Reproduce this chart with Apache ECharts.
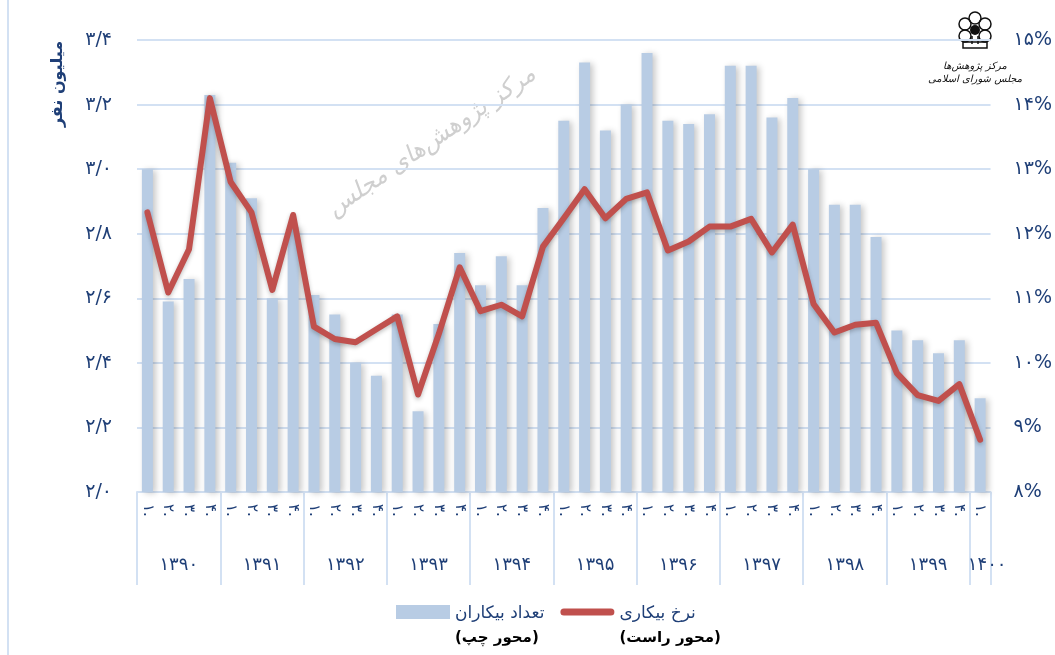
<!DOCTYPE html>
<html>
<head>
<meta charset="utf-8">
<script src="https://cdn.jsdelivr.net/npm/echarts@6/dist/echarts.min.js"></script>
<style>
  html, body { margin: 0; padding: 0; background: #fff; }
  #main { width: 1055px; height: 655px; }
</style>
</head>
<body>
<div id="main"></div>
<script>
// سال‌ها و فصل‌ها
var years = ['1390', '1391', '1392', '1393', '1394', '1395', '1396', '1397', '1398', '1399', '1400'];
var quarters = ['1', '2', '3', '4'];

// تعداد بیکاران (میلیون نفر) - محور چپ
var unemployed = [3.00, 2.59, 2.66, 3.23, 3.02, 2.91, 2.60, 2.82, 2.61, 2.55, 2.40, 2.36,
                  2.55, 2.25, 2.52, 2.74, 2.64, 2.73, 2.64, 2.88, 3.15, 3.33, 3.12, 3.20,
                  3.36, 3.15, 3.14, 3.17, 3.32, 3.32, 3.16, 3.22, 3.00, 2.89, 2.89, 2.79,
                  2.50, 2.47, 2.43, 2.47, 2.29];

// نرخ بیکاری (درصد) - محور راست
var rate = [12.33, 11.09, 11.76, 14.10, 12.80, 12.33, 11.13, 12.29, 10.56, 10.37, 10.32, 10.52,
            10.72, 9.51, 10.45, 11.48, 10.80, 10.90, 10.72, 11.80, 12.24, 12.69, 12.24, 12.54,
            12.64, 11.74, 11.88, 12.11, 12.11, 12.23, 11.71, 12.14, 10.91, 10.47, 10.59, 10.62,
            9.84, 9.50, 9.41, 9.67, 8.81];

var navy = '#1f3f77';
var gridBlue = '#d3e1f3';
var faFont = 'DejaVu Sans';

function fa(s) {
    return String(s).replace(/\d/g, function (d) { return '۰۱۲۳۴۵۶۷۸۹'[d]; });
}

var categories = [];
years.forEach(function (y) {
    quarters.forEach(function (q) {
        if (categories.length < unemployed.length) categories.push(y + '-' + q);
    });
});

var myChart = echarts.init(document.getElementById('main'));

var option = {
    backgroundColor: '#fff',
    animation: false,
    textStyle: { fontFamily: faFont },
    grid: { left: 137, right: 63, top: 40, bottom: 163 },
    legend: {
        left: 391,
        top: 600,
        itemWidth: 54,
        itemHeight: 14,
        itemGap: 16,
        formatter: function (name) {
            var sub = name === 'تعداد بیکاران' ? '(محور چپ)' : '(محور راست)';
            return '{a|' + name + '}\n{b|' + sub + '}';
        },
        textStyle: {
            padding: [28, 0, 0, 0],
            rich: {
                a: { fontFamily: faFont, fontSize: 17, color: navy, lineHeight: 24 },
                b: { fontFamily: faFont, fontSize: 15, fontWeight: 'bold', color: '#000', lineHeight: 24 }
            }
        },
        data: [
            { name: 'تعداد بیکاران', icon: 'rect' },
            // thin rounded bar; the two move-to points keep the full icon height
            { name: 'نرخ بیکاری', icon: 'path://M0,0M0,14M3.5,3.5L50.5,3.5A3.5,3.5,0,0,1,50.5,10.5L3.5,10.5A3.5,3.5,0,0,1,3.5,3.5Z' }
        ]
    },
    xAxis: [
        {
            type: 'category',
            data: categories,
            axisLine: { lineStyle: { color: gridBlue, width: 2 } },
            axisTick: { show: false },
            axisLabel: {
                interval: 0,
                rotate: -90,
                margin: 12,
                fontSize: 15,
                color: navy,
                formatter: function (v) { return fa(v.split('-')[1]) + '.'; }
            }
        },
        {
            type: 'category',
            data: categories,
            position: 'bottom',
            axisLine: { show: false },
            axisTick: {
                show: true,
                length: 93,
                interval: function (i) { return i % 4 === 0; },
                lineStyle: { color: gridBlue, width: 2 }
            },
            axisLabel: {
                margin: 64,
                color: navy,
                interval: function (i) { return i % 4 === 1 || i === 40; },
                formatter: function (v, i) {
                    var y = fa(v.split('-')[0]);
                    return i === 40 ? '{e|' + y + '}' : '{y|' + y + '}';
                },
                rich: {
                    y: { fontFamily: faFont, fontSize: 18, color: navy, padding: [0, 0, 0, 21] },
                    e: { fontFamily: faFont, fontSize: 18, color: navy, padding: [0, 0, 0, 14] }
                }
            }
        }
    ],
    yAxis: [
        {
            type: 'value',
            min: 2.0,
            max: 3.4,
            interval: 0.2,
            axisLine: { show: false },
            axisTick: { show: false },
            splitLine: { lineStyle: { color: gridBlue, width: 2 } },
            axisLabel: {
                margin: 25,
                fontSize: 19,
                color: navy,
                formatter: function (v) { return fa(v.toFixed(1)).replace('.', '/'); }
            }
        },
        {
            type: 'value',
            min: 8,
            max: 15,
            interval: 1,
            axisLine: { show: false },
            axisTick: { show: false },
            splitLine: { show: false },
            axisLabel: {
                margin: 23,
                fontSize: 19,
                color: navy,
                formatter: function (v) { return fa(v) + '%'; }
            }
        }
    ],
    graphic: [
        {
            type: 'line',
            shape: { x1: 8, y1: 0, x2: 8, y2: 655 },
            style: { stroke: gridBlue, lineWidth: 2 }
        },
        {
            type: 'text',
            x: 58, y: 84,
            rotation: Math.PI / 2,
            style: {
                text: 'میلیون نفر',
                font: 'bold 16px DejaVu Sans',
                fill: navy,
                textAlign: 'center',
                textVerticalAlign: 'middle'
            }
        },
        {
            type: 'text',
            x: 432, y: 142,
            rotation: 0.6,
            z: 0,
            style: {
                text: 'مرکز پژوهش‌های مجلس',
                font: 'italic 24px DejaVu Sans',
                fill: '#cfcfcf',
                textAlign: 'center',
                textVerticalAlign: 'middle'
            }
        },
        {
            type: 'group',
            x: 975, y: 30,
            children: [
                { type: 'circle', shape: { cx: 0, cy: -12, r: 6 }, style: { fill: 'none', stroke: '#111', lineWidth: 1.5 } },
                { type: 'circle', shape: { cx: -10, cy: -6, r: 6 }, style: { fill: 'none', stroke: '#111', lineWidth: 1.5 } },
                { type: 'circle', shape: { cx: 10, cy: -6, r: 6 }, style: { fill: 'none', stroke: '#111', lineWidth: 1.5 } },
                { type: 'circle', shape: { cx: -10, cy: 6, r: 6 }, style: { fill: 'none', stroke: '#111', lineWidth: 1.5 } },
                { type: 'circle', shape: { cx: 10, cy: 6, r: 6 }, style: { fill: 'none', stroke: '#111', lineWidth: 1.5 } },
                { type: 'circle', shape: { cx: 0, cy: 0, r: 5 }, style: { fill: '#111' } },
                { type: 'rect', shape: { x: -12, y: 12, width: 24, height: 6 }, style: { fill: 'none', stroke: '#111', lineWidth: 1.5 } },
                { type: 'line', shape: { x1: -3, y1: 6, x2: -3, y2: 14 }, style: { stroke: '#111', lineWidth: 1.5 } },
                { type: 'line', shape: { x1: 3, y1: 6, x2: 3, y2: 14 }, style: { stroke: '#111', lineWidth: 1.5 } },
                { type: 'text', x: 0, y: 36, style: { text: 'مرکز پژوهش‌ها', font: 'italic 10px DejaVu Sans', fill: '#111', textAlign: 'center', textVerticalAlign: 'middle' } },
                { type: 'text', x: 0, y: 49, style: { text: 'مجلس شورای اسلامی', font: 'italic 10px DejaVu Sans', fill: '#111', textAlign: 'center', textVerticalAlign: 'middle' } }
            ]
        }
    ],
    series: [
        {
            name: 'تعداد بیکاران',
            type: 'bar',
            xAxisIndex: 0,
            yAxisIndex: 0,
            barWidth: 11,
            data: unemployed,
            itemStyle: {
                color: '#b8cce4',
                shadowColor: 'rgba(0,0,0,0.22)',
                shadowBlur: 6,
                shadowOffsetX: 3,
                shadowOffsetY: 1
            }
        },
        {
            name: 'نرخ بیکاری',
            type: 'line',
            xAxisIndex: 0,
            yAxisIndex: 1,
            data: rate,
            symbol: 'none',
            z: 3,
            itemStyle: { color: '#c0504d' },
            lineStyle: {
                color: '#c0504d',
                width: 6,
                cap: 'round',
                join: 'round',
                shadowColor: 'rgba(0,0,0,0.25)',
                shadowBlur: 4,
                shadowOffsetY: 2
            }
        }
    ]
};

myChart.setOption(option);
</script>
</body>
</html>
